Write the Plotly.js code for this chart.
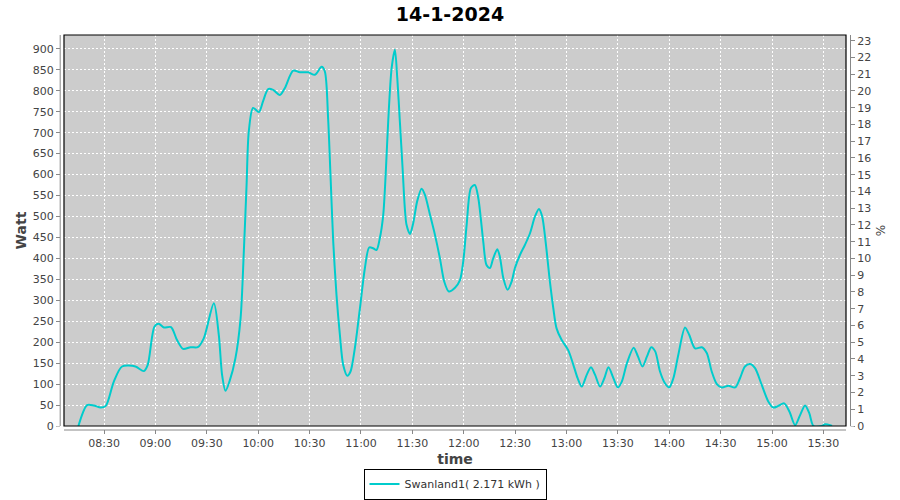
<!DOCTYPE html>
<html>
<head>
<meta charset="utf-8">
<script src="https://cdn.plot.ly/plotly-3.0.1.min.js"></script>
<style>html,body{margin:0;padding:0;background:#fff;}#chart{width:900px;height:500px;}</style>
</head>
<body>
<div id="chart"></div>
<script>
// ---- data ----
const chartDate = '2024-01-14';
const chartTitle = '14-1-2024';
const seriesName = 'Swanland1( 2.171 kWh )';
const times = [
 '08:15:00','08:20:06','08:24:00','08:28:00','08:31:00','08:35:42','08:40:30','08:48:18','08:53:12','08:55:30',
 '08:59:24','09:01:54','09:04:54','09:09:06','09:12:36','09:16:06','09:20:30','09:24:42','09:28:12','09:34:06',
 '09:37:00','09:38:54','09:40:54','09:43:12','09:46:42','09:49:42','09:51:36','09:53:12','09:54:30','09:57:00',
 '10:00:24','10:02:54','10:05:48','10:08:42','10:12:36','10:15:30','10:20:24','10:24:18','10:29:12','10:33:06',
 '10:37:00','10:38:54','10:40:48','10:42:12','10:43:48','10:45:42','10:47:42','10:49:36','10:52:00','10:53:54',
 '10:56:24','10:59:24','11:02:18','11:04:48','11:07:06','11:09:06','11:11:00','11:13:00','11:14:30','11:15:54',
 '11:17:54','11:19:48','11:21:12','11:22:42','11:24:18','11:25:36','11:26:36','11:28:36','11:30:30','11:32:48',
 '11:35:24','11:37:18','11:40:18','11:43:12','11:46:06','11:48:36','11:51:18','11:54:54','11:57:48','11:59:42',
 '12:01:42','12:04:12','12:06:30','12:08:30','12:11:24','12:13:18','12:15:18','12:17:12','12:19:36','12:21:06',
 '12:23:06','12:25:36','12:28:00','12:29:54','12:32:48','12:35:42','12:38:42','12:41:36','12:43:54','12:45:48',
 '12:47:48','12:50:18','12:52:18','12:54:12','12:57:12','13:01:00','13:04:00','13:06:30','13:08:54','13:11:48',
 '13:14:18','13:16:42','13:19:36','13:22:06','13:24:30','13:27:24','13:30:00','13:32:18','13:35:18','13:39:12',
 '13:41:42','13:44:24','13:47:00','13:49:30','13:51:48','13:54:36','13:57:30','14:00:00','14:02:24','14:05:18',
 '14:09:12','14:11:42','14:15:06','14:19:00','14:21:54','14:24:48','14:27:48','14:30:42','14:34:30','14:38:30',
 '14:41:18','14:44:12','14:47:12','14:50:06','14:54:00','14:57:54','15:00:48','15:03:42','15:07:06','15:10:12',
 '15:13:30','15:16:24','15:19:18','15:21:48','15:24:12','15:29:06','15:31:00','15:33:54','15:35:00'
];
const watts = [
 0,50,49,44,48,106,142,142,131,146,
 237,244,235,236,205,184,188,188,209,293,
 217,122,84,106,162,257,416,575,703,759,
 749,776,804,802,790,806,848,844,844,838,
 857,846,735,599,440,313,217,146,120,130,
 185,281,377,426,424,420,448,504,607,727,
 854,898,830,727,615,520,480,458,484,536,
 566,552,504,456,400,345,321,330,348,392,
 480,568,575,544,440,384,377,400,422,404,
 353,325,345,377,408,432,460,500,518,500,
 440,345,281,233,205,181,146,114,94,122,
 140,122,94,114,140,114,92,106,150,187,
 166,142,166,188,178,130,102,92,114,170,
 235,217,185,188,174,130,100,92,96,92,
 114,142,148,138,98,58,44,48,54,34,
 2,26,49,30,0,0,4,2,0
];
const xRange = ['08:06:36', '15:43:12'];
const wattRange = [0, 933];
const pctRange = [0, 23.34];

// ---- chart ----
const tickFont = {family: 'DejaVu Sans, sans-serif', size: 11, color: '#444444'};
const titleFont = {family: 'DejaVu Sans, sans-serif', size: 14, color: '#444444', weight: 'bold'};
const grid = '#ffffff';
const W = 782, H = 391; // plot area in px (for paper-ref shapes)

const trace = {
  type: 'scatter', mode: 'lines',
  x: times.map(t => chartDate + ' ' + t),
  y: watts,
  name: seriesName,
  line: {color: '#00CCCC', width: 2, shape: 'spline', smoothing: 0.8},
  hoverinfo: 'x+y'
};

const axisGray = '#888888';
const shapes = [
  {type:'rect', xref:'paper', yref:'paper', x0:-4/W, x1:-0.6/W, y0:-0.01, y1:1.01, fillcolor:'#fff', line:{width:0}, layer:'above'},
  {type:'rect', xref:'paper', yref:'paper', x0:1+0.6/W, x1:1+4.5/W, y0:-0.01, y1:1.01, fillcolor:'#fff', line:{width:0}, layer:'above'},
  {type:'rect', xref:'paper', yref:'paper', x0:-0.01, x1:1.01, y0:-4/H, y1:-0.6/H, fillcolor:'#fff', line:{width:0}, layer:'above'},
  {type:'rect', xref:'paper', yref:'paper', x0:0, x1:1, y0:0, y1:1, line:{color:'#000', width:1.2}, layer:'above'},
  {type:'line', xref:'paper', yref:'paper', x0:-3.8/W, x1:-3.8/W, y0:0, y1:1, line:{color:axisGray, width:1}, layer:'above'},
  {type:'line', xref:'paper', yref:'paper', x0:1+4.5/W, x1:1+4.5/W, y0:0, y1:1, line:{color:axisGray, width:1}, layer:'above'},
  {type:'line', xref:'paper', yref:'paper', x0:0, x1:1, y0:-4/H, y1:-4/H, line:{color:axisGray, width:1}, layer:'above'}
];

const layout = {
  width: 900, height: 500,
  margin: {l: 64, r: 54, t: 35, b: 74, pad: 0, autoexpand: false},
  paper_bgcolor: '#ffffff',
  plot_bgcolor: '#CCCCCC',
  title: {text: chartTitle, x: 0.5, xanchor: 'center', y: 1 - 14/500, yanchor: 'middle', yref: 'container',
          font: {family: 'DejaVu Sans, sans-serif', size: 19, color: '#000', weight: 'bold'}},
  xaxis: {
    type: 'date', automargin: true,
    range: xRange.map(t => chartDate + ' ' + t),
    tick0: chartDate + ' 08:30:00', dtick: 30*60*1000,
    tickformat: '%H:%M',
    ticks: 'outside', ticklen: 7, tickcolor: axisGray, tickwidth: 1,
    tickfont: tickFont,
    showgrid: true, gridcolor: grid, griddash: '2px,2px', gridwidth: 1,
    showline: false, zeroline: false,
    title: {text: 'time', font: titleFont, standoff: 4}
  },
  yaxis: {
    automargin: true,
    range: wattRange, dtick: 50, tick0: 0,
    ticks: 'outside', ticklen: 7, tickcolor: axisGray, tickwidth: 1,
    tickfont: tickFont,
    showgrid: true, gridcolor: grid, griddash: '2px,2px', gridwidth: 1,
    showline: false, zeroline: false,
    title: {text: 'Watt', font: titleFont, standoff: 2}
  },
  yaxis2: {
    automargin: true,
    overlaying: 'y', side: 'right',
    range: pctRange, dtick: 1, tick0: 0,
    ticks: 'outside', ticklen: 8, tickcolor: axisGray, tickwidth: 1,
    tickfont: tickFont,
    showgrid: false, showline: false, zeroline: false,
    title: {text: '%', font: {family: 'DejaVu Sans, sans-serif', size: 12, color: '#444444'}, standoff: 6}
  },
  showlegend: true,
  legend: {
    orientation: 'h', x: 0.5, xanchor: 'center', xref: 'paper',
    y: -42.5/H, yanchor: 'top', yref: 'paper',
    bordercolor: '#000', borderwidth: 1, bgcolor: '#fff',
    font: {family: 'DejaVu Sans, sans-serif', size: 11, color: '#333333'},
    itemwidth: 30, tracegroupgap: 0
  },
  shapes: shapes
};

const pctAxisTrace = {type:'scatter', mode:'lines', x:[], y:[], yaxis:'y2', showlegend:false, hoverinfo:'skip'};

Plotly.newPlot('chart', [trace, pctAxisTrace], layout, {displayModeBar: false, staticPlot: true});
</script>
</body>
</html>
